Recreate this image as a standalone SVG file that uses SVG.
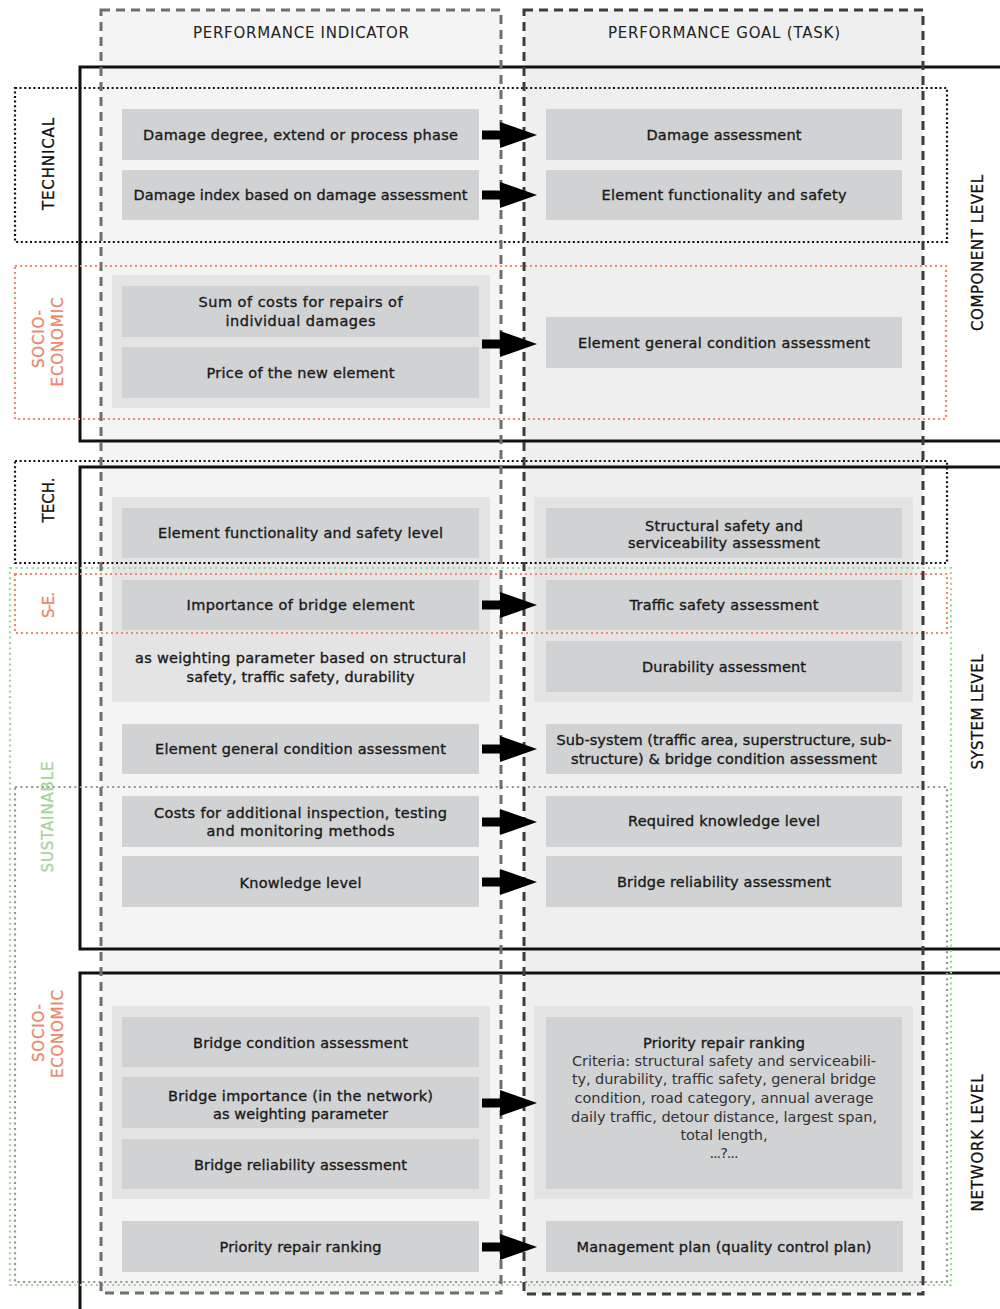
<svg xmlns="http://www.w3.org/2000/svg" width="1000" height="1309" viewBox="0 0 1000 1309">
  <style>
    .t { font-family: "DejaVu Sans", "Liberation Sans", sans-serif; font-size: 14.5px; fill: #1a1a1a; stroke: #1a1a1a; stroke-width: 0.35; text-anchor: middle; }
    .tl { font-family: "DejaVu Sans", "Liberation Sans", sans-serif; font-size: 14.5px; fill: #333; text-anchor: middle; }
    .hd { font-family: "DejaVu Sans", "Liberation Sans", sans-serif; font-size: 15px; fill: #222; text-anchor: middle; }
    .side { font-family: "DejaVu Sans", "Liberation Sans", sans-serif; font-size: 15px; fill: #111; stroke: #111; stroke-width: 0.3; text-anchor: middle; }
    .orange { fill: #e9876b; stroke: #e9876b; }
    .green { fill: #a6d39c; stroke: #a6d39c; }
    .node { fill: #d1d2d4; }
    .panel { fill: #e4e4e5; }
    .level { fill: none; stroke: #111; stroke-width: 3; }
    .dot-black { fill: none; stroke: #111; stroke-width: 2.2; stroke-dasharray: 2 2.6; }
    .dot-orange { fill: none; stroke: #ef8a6a; stroke-width: 2.2; stroke-dasharray: 2 3; }
    .dot-green { fill: none; stroke: #a0d398; stroke-width: 2.2; stroke-dasharray: 2 3.4; }
    .dot-grey { fill: none; stroke: #939393; stroke-width: 2.2; stroke-dasharray: 2 3.4; }
    .col-a { fill: none; stroke: #6e6e6e; stroke-width: 3; stroke-dasharray: 9 6; }
    .col-b { fill: none; stroke: #3c3c3c; stroke-width: 3; stroke-dasharray: 9 6; }
  </style>
  <defs>
    <path id="arrow" d="M0,-4.5 H18 V-13 L55,0 L18,13 V4.5 H0 Z" fill="#000"/>
  </defs>

  <rect width="1000" height="1309" fill="#fff"/>

  <!-- column backgrounds -->
  <g id="columns-fill">
    <rect x="101" y="10" width="400" height="1283" fill="#f4f4f4"/>
    <rect x="524" y="10" width="399" height="1284" fill="#efefef"/>
  </g>

  <!-- grouping panels -->
  <g id="panels">
    <rect class="panel" x="112" y="275" width="378" height="133"/>
    <rect class="panel" x="112" y="497" width="378" height="205"/>
    <rect class="panel" x="534" y="497" width="379" height="205" fill="#e6e6e6"/>
    <rect class="panel" x="112" y="1006" width="378" height="193"/>
    <rect class="panel" x="534" y="1006" width="379" height="193" fill="#e6e6e6"/>
  </g>

  <!-- level frames -->
  <g id="levels">
    <rect class="level" x="80" y="67" width="935" height="374"/>
    <rect class="level" x="80" y="467" width="935" height="482"/>
    <rect class="level" x="80" y="973" width="935" height="350"/>
  </g>

  <!-- category frames -->
  <g id="categories">
    <rect class="dot-black" x="15" y="88" width="932" height="154"/>
    <rect class="dot-orange" x="15" y="266" width="931" height="153"/>
    <rect class="dot-black" x="15" y="461" width="932" height="102"/>
    <rect class="dot-green" x="10" y="568" width="941" height="717"/>
    <rect class="dot-orange" x="15" y="574" width="932" height="59"/>
    <rect class="dot-grey" x="15" y="787" width="932" height="495"/>
  </g>

  <!-- column borders -->
  <g id="columns-border">
    <rect class="col-a" x="101" y="10" width="400" height="1283"/>
    <rect class="col-b" x="524" y="10" width="399" height="1284"/>
  </g>

  <!-- headings -->
  <g id="headings">
    <text class="hd" x="301" y="37.5" textLength="216">PERFORMANCE INDICATOR</text>
    <text class="hd" x="724" y="37.5" textLength="232">PERFORMANCE GOAL (TASK)</text>
  </g>

  <!-- side labels -->
  <g id="side-labels">
    <text class="side" transform="translate(53.5,164) rotate(-90)" textLength="92">TECHNICAL</text>
    <text class="side orange" transform="translate(43.5,339) rotate(-90)" textLength="58">SOCIO-</text>
    <text class="side orange" transform="translate(62.5,342) rotate(-90)" textLength="89">ECONOMIC</text>
    <text class="side" transform="translate(53.5,500) rotate(-90)" textLength="45">TECH.</text>
    <text class="side orange" transform="translate(53.5,605) rotate(-90)" textLength="26">S-E.</text>
    <text class="side green" transform="translate(52.5,817) rotate(-90)" textLength="111">SUSTAINABLE</text>
    <text class="side orange" transform="translate(43.5,1033) rotate(-90)" textLength="58">SOCIO-</text>
    <text class="side orange" transform="translate(62.5,1034) rotate(-90)" textLength="88">ECONOMIC</text>
    <text class="side" transform="translate(982.5,253) rotate(-90)" textLength="156">COMPONENT LEVEL</text>
    <text class="side" transform="translate(982.5,712) rotate(-90)" textLength="115">SYSTEM LEVEL</text>
    <text class="side" transform="translate(982.5,1143) rotate(-90)" textLength="137">NETWORK LEVEL</text>
  </g>

  <!-- performance indicators -->
  <g id="pi-damage-degree"><rect class="node" x="122" y="109" width="357" height="51"/>
    <text class="t" x="300.5" y="140" textLength="315">Damage degree, extend or process phase</text></g>
  <g id="pi-damage-index"><rect class="node" x="122" y="170" width="357" height="50"/>
    <text class="t" x="300.5" y="200" textLength="334">Damage index based on damage assessment</text></g>
  <g id="pi-repair-costs"><rect class="node" x="122" y="286" width="357" height="51"/>
    <text class="t" x="300.5" y="307" textLength="204">Sum of costs for repairs of</text>
    <text class="t" x="300.5" y="326" textLength="150">individual damages</text></g>
  <g id="pi-element-price"><rect class="node" x="122" y="347" width="357" height="51"/>
    <text class="t" x="300.5" y="378" textLength="188">Price of the new element</text></g>
  <g id="pi-element-functionality"><rect class="node" x="122" y="508" width="357" height="50"/>
    <text class="t" x="300.5" y="538" textLength="285">Element functionality and safety level</text></g>
  <g id="pi-element-importance"><rect class="node" x="122" y="580" width="357" height="50"/>
    <text class="t" x="300.5" y="610" textLength="228">Importance of bridge element</text>
    <text class="t" x="300.5" y="663" textLength="331">as weighting parameter based on structural</text>
    <text class="t" x="300.5" y="682" textLength="228">safety, traffic safety, durability</text></g>
  <g id="pi-element-condition"><rect class="node" x="122" y="724" width="357" height="50"/>
    <text class="t" x="300.5" y="754" textLength="291">Element general condition assessment</text></g>
  <g id="pi-inspection-costs"><rect class="node" x="122" y="796" width="357" height="51"/>
    <text class="t" x="300.5" y="818" textLength="293">Costs for additional inspection, testing</text>
    <text class="t" x="300.5" y="836" textLength="188">and monitoring methods</text></g>
  <g id="pi-knowledge"><rect class="node" x="122" y="856" width="357" height="51"/>
    <text class="t" x="300.5" y="888" textLength="122">Knowledge level</text></g>
  <g id="pi-bridge-condition"><rect class="node" x="122" y="1017" width="357" height="50"/>
    <text class="t" x="300.5" y="1048" textLength="215">Bridge condition assessment</text></g>
  <g id="pi-bridge-importance"><rect class="node" x="122" y="1077" width="357" height="51"/>
    <text class="t" x="300.5" y="1101" textLength="265">Bridge importance (in the network)</text>
    <text class="t" x="300.5" y="1119" textLength="175">as weighting parameter</text></g>
  <g id="pi-bridge-reliability"><rect class="node" x="122" y="1139" width="357" height="50"/>
    <text class="t" x="300.5" y="1170" textLength="213">Bridge reliability assessment</text></g>
  <g id="pi-priority-ranking"><rect class="node" x="122" y="1221" width="357" height="51"/>
    <text class="t" x="300.5" y="1252" textLength="162">Priority repair ranking</text></g>

  <!-- performance goals -->
  <g id="pg-damage-assessment"><rect class="node" x="546" y="109" width="356" height="51"/>
    <text class="t" x="724" y="140" textLength="155">Damage assessment</text></g>
  <g id="pg-element-functionality"><rect class="node" x="546" y="170" width="356" height="50"/>
    <text class="t" x="724" y="200" textLength="245">Element functionality and safety</text></g>
  <g id="pg-element-condition"><rect class="node" x="546" y="317" width="356" height="51"/>
    <text class="t" x="724" y="348" textLength="292">Element general condition assessment</text></g>
  <g id="pg-structural-safety"><rect class="node" x="546" y="508" width="356" height="50"/>
    <text class="t" x="724" y="531" textLength="158">Structural safety and</text>
    <text class="t" x="724" y="548" textLength="192">serviceability assessment</text></g>
  <g id="pg-traffic-safety"><rect class="node" x="546" y="580" width="356" height="50"/>
    <text class="t" x="724" y="610" textLength="189">Traffic safety assessment</text></g>
  <g id="pg-durability"><rect class="node" x="546" y="641" width="356" height="51"/>
    <text class="t" x="724" y="672" textLength="164">Durability assessment</text></g>
  <g id="pg-subsystem-condition"><rect class="node" x="546" y="724" width="356" height="50"/>
    <text class="t" x="724" y="745" textLength="335">Sub-system (traffic area, superstructure, sub-</text>
    <text class="t" x="724" y="764" textLength="306">structure) &amp; bridge condition assessment</text></g>
  <g id="pg-knowledge"><rect class="node" x="546" y="796" width="356" height="51"/>
    <text class="t" x="724" y="826" textLength="192">Required knowledge level</text></g>
  <g id="pg-bridge-reliability"><rect class="node" x="546" y="856" width="356" height="51"/>
    <text class="t" x="724" y="887" textLength="214">Bridge reliability assessment</text></g>
  <g id="pg-priority-ranking"><rect class="node" x="546" y="1017" width="356" height="172"/>
    <text class="t" x="724" y="1048" textLength="162">Priority repair ranking</text>
    <text class="tl" x="724" y="1066" textLength="304">Criteria: structural safety and serviceabili-</text>
    <text class="tl" x="724" y="1084" textLength="304">ty, durability, traffic safety, general bridge</text>
    <text class="tl" x="724" y="1103" textLength="299">condition, road category, annual average</text>
    <text class="tl" x="724" y="1122" textLength="306">daily traffic, detour distance, largest span,</text>
    <text class="tl" x="724" y="1140" textLength="87">total length,</text>
    <text class="tl" x="724" y="1158" textLength="29">...?...</text></g>
  <g id="pg-management-plan"><rect class="node" x="546" y="1221" width="357" height="51"/>
    <text class="t" x="724" y="1252" textLength="295">Management plan (quality control plan)</text></g>

  <!-- connectors -->
  <g id="connectors">
    <use href="#arrow" x="482" y="135"/>
    <use href="#arrow" x="482" y="195"/>
    <use href="#arrow" x="482" y="344"/>
    <use href="#arrow" x="482" y="605"/>
    <use href="#arrow" x="482" y="749"/>
    <use href="#arrow" x="482" y="822"/>
    <use href="#arrow" x="482" y="882"/>
    <use href="#arrow" x="482" y="1103"/>
    <use href="#arrow" x="482" y="1247"/>
  </g>
</svg>
